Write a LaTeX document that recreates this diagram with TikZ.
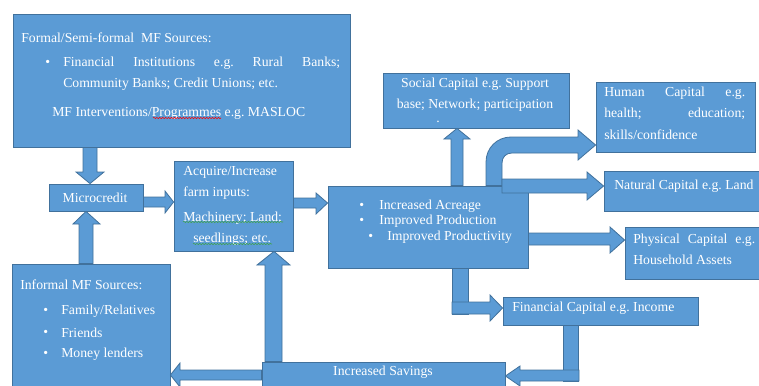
\documentclass[tikz,border=0pt]{standalone}
\usepackage{fontspec}
\setmainfont{Liberation Serif}
\usetikzlibrary{fit,decorations.pathmorphing}

\definecolor{boxblue}{HTML}{5B9BD5}
\definecolor{edgeblue}{HTML}{41719C}
\definecolor{spellgreen}{HTML}{3FA34D}

\tikzset{
  box/.style={draw=edgeblue, fill=boxblue, line width=0.6pt, inner sep=0pt},
  blk/.style={draw=edgeblue, fill=boxblue, line width=0.6pt, line join=miter},
  txt/.style={text=white, font=\fontsize{10.3}{12}\selectfont\frenchspacing, inner sep=0pt, anchor=west},
  spell/.style={decorate, decoration={snake, segment length=2.2pt, amplitude=0.5pt}, line width=0.4pt}
}

\begin{document}
\begin{tikzpicture}[x=0.75pt, y=-0.75pt]
\clip (0,0) rectangle (759,385);
% boxes
\node[box, fit={(13,14) (350,147)}] (formal) {};
\node[box, fit={(49,184) (143,211)}] (micro) {};
\node[box, fit={(174,161) (293,251)}] (acquire) {};
\node[box, fit={(328,186) (528,268)}] (gains) {};
\node[box, fit={(383,73) (569,128)}] (social) {};
\node[box, fit={(596,82) (755,152)}] (human) {};
\node[box, fit={(604,171) (762,211)}] (natural) {};
\node[box, fit={(625,227) (762,279)}] (physical) {};
\node[box, fit={(503,297) (698,325)}] (financial) {};
\node[box, fit={(12,264) (170,392)}] (informal) {};
\node[box, fit={(262,362) (505,392)}] (savings) {};

% block arrows
\draw[blk] (83,0 |- formal.south) -- (83,172) -- (76,172) -- (90,0 |- micro.north) -- (104,172) -- (97,172) -- (97,0 |- formal.south) -- cycle;
\draw[blk] (79,0 |- informal.north) -- (79,224) -- (73,224) -- (86,0 |- micro.south) -- (100,224) -- (93,224) -- (93,0 |- informal.north) -- cycle;
\draw[blk] (micro.east |- 0,197) -- (165,197) -- (165,191) -- (acquire.west |- 0,202) -- (165,213) -- (165,207) -- (micro.east |- 0,207) -- cycle;
\draw[blk] (acquire.east |- 0,198) -- (316,198) -- (316,193) -- (gains.west |- 0,203) -- (316,214) -- (316,208) -- (acquire.east |- 0,208) -- cycle;
\draw[blk] (451,0 |- gains.north) -- (451,139) -- (444,139) -- (457,0 |- social.south) -- (470,139) -- (463,139) -- (463,0 |- gains.north) -- cycle;
\draw[blk] (486,0 |- gains.north) -- (486,162) .. controls (486,148) and (497,137) .. (511,137) -- (578,137) -- (578,130) -- (human.west |- 0,145) -- (578,160) -- (578,153) -- (512,153) .. controls (506,153) and (502,157) .. (502,163) -- (502,0 |- gains.north) -- cycle;
\draw[blk] (502,179) -- (587,179) -- (587,172) -- (natural.west |- 0,186) -- (587,200) -- (587,193) -- (502,193) -- cycle;
\draw[blk] (gains.east |- 0,233) -- (610,233) -- (610,227) -- (physical.west |- 0,240) -- (610,253) -- (610,245) -- (gains.east |- 0,245) -- cycle;
\draw[blk] (452,0 |- gains.south) rectangle (468,314);
\draw[blk] (452,302) -- (490,302) -- (490,295) -- (financial.west |- 0,308) -- (490,321) -- (490,314) -- (452,314) -- cycle;
\draw[blk] (563,0 |- financial.south) rectangle (578,381);
\draw[blk] (579,370) -- (520,370) -- (520,366) -- (savings.east |- 0,376) -- (520,386) -- (520,381) -- (579,381) -- cycle;
\draw[blk] (265,0 |- savings.north) -- (265,265) -- (257,265) -- (274,0 |- acquire.south) -- (290,265) -- (282,265) -- (282,0 |- savings.north) -- cycle;
\draw[blk] (savings.west |- 0,370) -- (180,370) -- (180,363) -- (informal.east |- 0,375) -- (180,387) -- (180,380) -- (savings.west |- 0,380) -- cycle;

% texts
\node[txt] (formal-head) at (21,38) {Formal/Semi-formal\ \ MF Sources:};
\node[txt] (formal-b1) at (45,63) {\textbullet};
\node[txt] (formal-l1) at (63,63) {\makebox[207.75pt][s]{Financial Institutions e.g. Rural Banks;}};
\node[txt] (formal-l2) at (63,84) {Community Banks; Credit Unions; etc.};
\node[txt] (formal-l3) at (52,113) {MF Interventions/Programmes e.g. MASLOC};
\draw[spell, red] (153,118) -- (221,118);

\node[txt, anchor=center] (micro-t) at (95,198) {Microcredit};

\node[txt] (acq-l1) at (183,172) {Acquire/Increase};
\node[txt] (acq-l2) at (183,193) {farm inputs:};
\node[txt] (acq-l3) at (183,218) {Machinery; Land;};
\node[txt] (acq-l4) at (193,239) {seedlings; etc.};
\draw[spell, spellgreen] (183,222) -- (283,222);
\draw[spell, spellgreen] (193,244) -- (272,244);

\node[txt] (gains-b1) at (359,206) {\textbullet};
\node[txt] (gains-b2) at (359,221) {\textbullet};
\node[txt] (gains-b3) at (368,237) {\textbullet};
\node[txt] (gains-l1) at (379,206) {Increased Acreage};
\node[txt] (gains-l2) at (379,221) {Improved Production};
\node[txt] (gains-l3) at (387,237) {Improved Productivity};

\node[txt, anchor=center] (social-l1) at (475,84) {Social Capital e.g. Support};
\node[txt, anchor=center] (social-l2) at (475,105) {base; Network; participation};
\node[txt, anchor=base] (social-l3) at (438,122) {.};

\node[txt] (human-l1) at (604,93) {\makebox[105.75pt][s]{Human Capital e.g.}};
\node[txt] (human-l2) at (604,114) {\makebox[105.75pt][s]{health; education;}};
\node[txt] (human-l3) at (604,135) {skills/confidence};

\node[txt] (natural-t) at (614,186) {Natural Capital e.g. Land};

\node[txt] (physical-l1) at (633,240) {\makebox[91.5pt][s]{Physical Capital e.g.}};
\node[txt] (physical-l2) at (633,260) {Household Assets};

\node[txt] (financial-t) at (512,308) {Financial Capital e.g. Income};

\node[txt] (informal-head) at (20,285) {Informal MF Sources:};
\node[txt] (informal-b1) at (43,311) {\textbullet};
\node[txt] (informal-b2) at (43,333) {\textbullet};
\node[txt] (informal-b3) at (43,354) {\textbullet};
\node[txt] (informal-l1) at (61,311) {Family/Relatives};
\node[txt] (informal-l2) at (61,333) {Friends};
\node[txt] (informal-l3) at (61,354) {Money lenders};

\node[txt, anchor=center] (savings-t) at (383,372) {Increased Savings};
\end{tikzpicture}
\end{document}
